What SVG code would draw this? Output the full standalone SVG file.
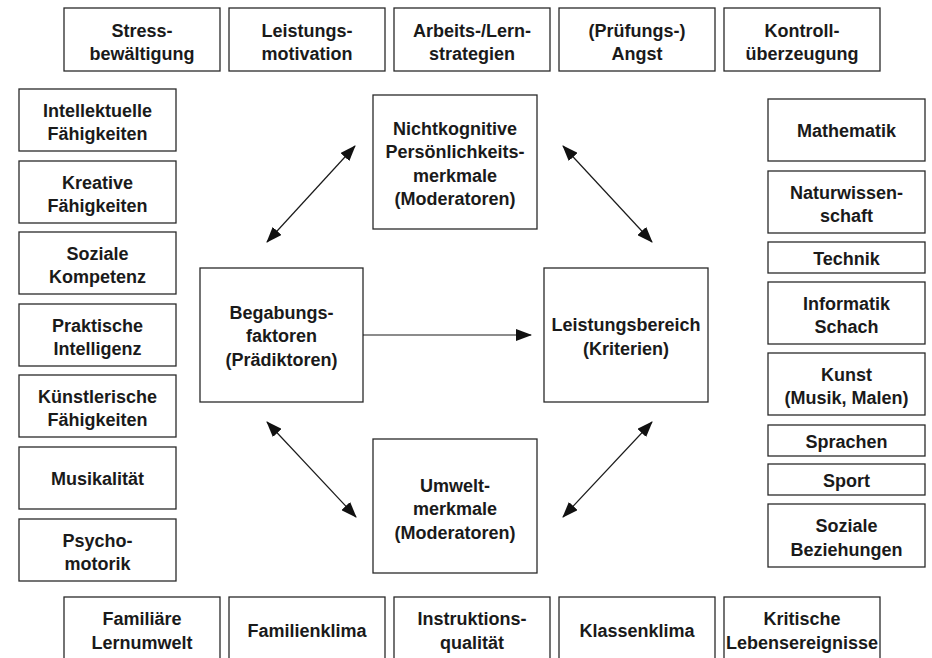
<svg xmlns="http://www.w3.org/2000/svg" width="932" height="658" viewBox="0 0 932 658">
<defs>
<style>
rect{fill:#fff;stroke:#2a2a2a;stroke-width:1.3}
text{font-family:"Liberation Sans",Arial,sans-serif;font-weight:bold;font-size:18px;fill:#1a1a1a;text-anchor:middle}
.c line{stroke:#1a1a1a;stroke-width:1.2}
</style>
<marker id="ah" markerUnits="userSpaceOnUse" markerWidth="16" markerHeight="12" viewBox="0 0 16 12" refX="15" refY="6" orient="auto-start-reverse">
<path d="M0,0 L16,6 L0,12 z" fill="#111"/>
</marker>
</defs>
<rect x="0" y="0" width="932" height="658" style="fill:#fff;stroke:none"/>
<g id="top-stress"><rect x="64" y="8" width="156" height="63"/><text x="142" y="36.5">Stress-</text><text x="142" y="60">bewältigung</text></g>
<g id="top-motivation"><rect x="229" y="8" width="156" height="63"/><text x="307" y="36.5">Leistungs-</text><text x="307" y="60">motivation</text></g>
<g id="top-strategien"><rect x="394" y="8" width="156" height="63"/><text x="472" y="36.5">Arbeits-/Lern-</text><text x="472" y="60">strategien</text></g>
<g id="top-angst"><rect x="559" y="8" width="156" height="63"/><text x="637" y="36.5">(Prüfungs-)</text><text x="637" y="60">Angst</text></g>
<g id="top-kontroll"><rect x="724" y="8" width="156" height="63"/><text x="802" y="36.5">Kontroll-</text><text x="802" y="60">überzeugung</text></g>

<g id="left-intellektuelle"><rect x="19" y="89" width="157" height="62"/><text x="97.5" y="116.5">Intellektuelle</text><text x="97.5" y="140">Fähigkeiten</text></g>
<g id="left-kreative"><rect x="19" y="161" width="157" height="62"/><text x="97.5" y="188.5">Kreative</text><text x="97.5" y="212">Fähigkeiten</text></g>
<g id="left-sozial"><rect x="19" y="232" width="157" height="62"/><text x="97.5" y="259.5">Soziale</text><text x="97.5" y="283">Kompetenz</text></g>
<g id="left-praktisch"><rect x="19" y="304" width="157" height="62"/><text x="97.5" y="331.5">Praktische</text><text x="97.5" y="355">Intelligenz</text></g>
<g id="left-kuenstlerisch"><rect x="19" y="375" width="157" height="62"/><text x="97.5" y="402.5">Künstlerische</text><text x="97.5" y="426">Fähigkeiten</text></g>
<g id="left-musik"><rect x="19" y="447" width="157" height="62"/><text x="97.5" y="485">Musikalität</text></g>
<g id="left-psycho"><rect x="19" y="519" width="157" height="62"/><text x="97.5" y="546.5">Psycho-</text><text x="97.5" y="570">motorik</text></g>

<g id="right-mathe"><rect x="768" y="99" width="157" height="62"/><text x="846.5" y="137">Mathematik</text></g>
<g id="right-natur"><rect x="768" y="171" width="157" height="62"/><text x="846.5" y="198.5">Naturwissen-</text><text x="846.5" y="222">schaft</text></g>
<g id="right-technik"><rect x="768" y="242" width="157" height="31"/><text x="846.5" y="264.5">Technik</text></g>
<g id="right-informatik"><rect x="768" y="282" width="157" height="62"/><text x="846.5" y="309.5">Informatik</text><text x="846.5" y="333">Schach</text></g>
<g id="right-kunst"><rect x="768" y="353" width="157" height="62"/><text x="846.5" y="380.5">Kunst</text><text x="846.5" y="404">(Musik, Malen)</text></g>
<g id="right-sprachen"><rect x="768" y="425" width="157" height="31"/><text x="846.5" y="447.5">Sprachen</text></g>
<g id="right-sport"><rect x="768" y="464" width="157" height="31"/><text x="846.5" y="486.5">Sport</text></g>
<g id="right-beziehungen"><rect x="768" y="504" width="157" height="63"/><text x="846.5" y="532">Soziale</text><text x="846.5" y="555.5">Beziehungen</text></g>

<g id="bottom-lernumwelt"><rect x="64" y="597" width="156" height="63"/><text x="142" y="625">Familiäre</text><text x="142" y="648.5">Lernumwelt</text></g>
<g id="bottom-familienklima"><rect x="229" y="597" width="156" height="63"/><text x="307" y="636.5">Familienklima</text></g>
<g id="bottom-instruktion"><rect x="394" y="597" width="156" height="63"/><text x="472" y="625">Instruktions-</text><text x="472" y="648.5">qualität</text></g>
<g id="bottom-klassenklima"><rect x="559" y="597" width="156" height="63"/><text x="637" y="636.5">Klassenklima</text></g>
<g id="bottom-lebensereignisse"><rect x="724" y="597" width="156" height="63"/><text x="802" y="625">Kritische</text><text x="802" y="648.5">Lebensereignisse</text></g>

<g id="nichtkognitiv"><rect x="373" y="95" width="164" height="134"/><text x="455" y="134.5">Nichtkognitive</text><text x="455" y="158">Persönlichkeits-</text><text x="455" y="181.5">merkmale</text><text x="455" y="205">(Moderatoren)</text></g>
<g id="begabung"><rect x="200" y="268" width="163" height="134"/><text x="281.5" y="318.5">Begabungs-</text><text x="281.5" y="342">faktoren</text><text x="281.5" y="365.5">(Prädiktoren)</text></g>
<g id="leistung"><rect x="544" y="268" width="164" height="134"/><text x="626" y="331">Leistungsbereich</text><text x="626" y="354.5">(Kriterien)</text></g>
<g id="umwelt"><rect x="373" y="439" width="164" height="134"/><text x="455" y="491.5">Umwelt-</text><text x="455" y="515">merkmale</text><text x="455" y="538.5">(Moderatoren)</text></g>

<g id="connectors" class="c">
<line x1="363" y1="335" x2="531" y2="335" marker-end="url(#ah)"/>
<line x1="267" y1="242" x2="355" y2="146" marker-start="url(#ah)" marker-end="url(#ah)"/>
<line x1="563" y1="146" x2="652" y2="242" marker-start="url(#ah)" marker-end="url(#ah)"/>
<line x1="267" y1="422" x2="356" y2="517" marker-start="url(#ah)" marker-end="url(#ah)"/>
<line x1="652" y1="422" x2="563" y2="517" marker-start="url(#ah)" marker-end="url(#ah)"/>
</g>
</svg>
